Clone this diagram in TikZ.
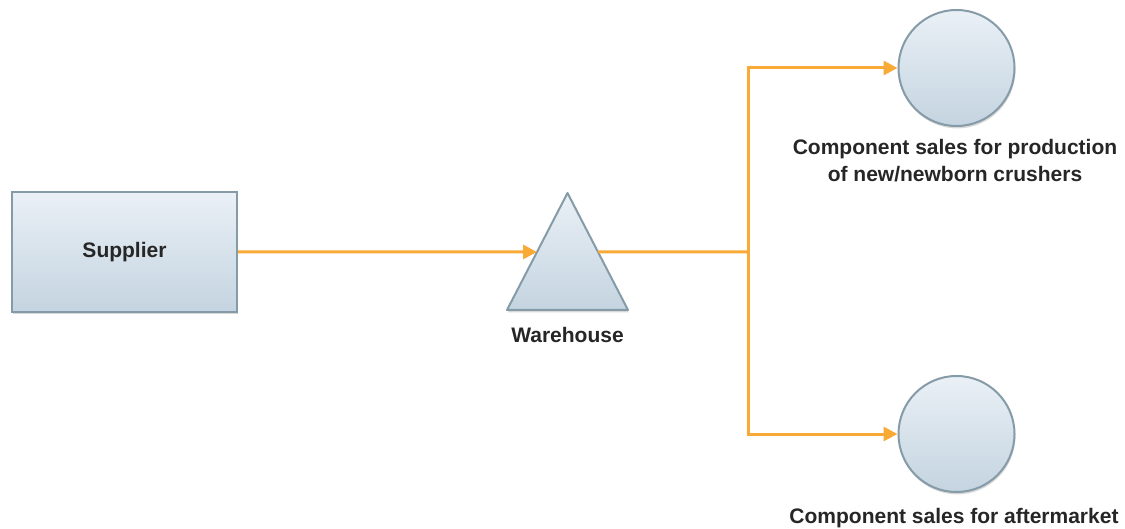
\documentclass[tikz,border=0pt]{standalone}
\usepackage{fontspec}
\setmainfont{Liberation Sans}
\usetikzlibrary{arrows.meta,shadows,calc}
\definecolor{edgeblue}{HTML}{859BA8}
\definecolor{filltop}{HTML}{EAF0F6}
\definecolor{fillbot}{HTML}{C4D4E0}
\definecolor{flow}{HTML}{F8A936}
\tikzset{
  shape style/.style={draw=edgeblue, line width=2pt, top color=filltop, bottom color=fillbot,
    drop shadow={shadow xshift=0.8pt, shadow yshift=-2.4pt, opacity=0.25, fill=black!60}},
  lbl/.style={font=\fontsize{21}{27}\selectfont\bfseries, text=black!85, align=center, inner sep=0pt},
  flowline/.style={draw=flow, line width=3pt},
  flowarrow/.style={flowline, -{Triangle[length=14pt,width=14pt]}},
}
\begin{document}
\begin{tikzpicture}[x=1pt,y=-1pt]
\useasboundingbox (0,0) rectangle (1125,529);
\fill[white] (0,0) rectangle (1125,529);

% supplier box
\node[shape style, rectangle, minimum width=225pt, minimum height=120pt, inner sep=0pt] (sup) at (124.5,252) {};
\node[lbl] (suplbl) at (sup.center) {Supplier};

% warehouse triangle
\coordinate (wtop) at (567.5,193);
\coordinate (wbl) at (507,310);
\coordinate (wbr) at (628,310);
\path[shape style, line join=round] (wtop) -- (wbl) -- (wbr) -- cycle;
\coordinate (win) at ($(wtop)!0.504!(wbl)$);
\coordinate (wout) at ($(wtop)!0.504!(wbr)$);
\node[lbl] (whlbl) at (567.5,335) {Warehouse};

% sales circles
\node[shape style, circle, minimum size=116pt, inner sep=0pt] (c1) at (956.5,68) {};
\node[shape style, circle, minimum size=116pt, inner sep=0pt] (c2) at (956.5,434) {};
\node[lbl] (c1lbl) at (955,161) {Component sales for production\\of new/newborn crushers};
\node[lbl] (c2lbl) at (954,518) {Component sales for aftermarket};

% flows
\coordinate (j) at (748,252);
\draw[flowarrow] (sup.east) -- (win);
\draw[flowline] (wout) -- (j);
\draw[flowarrow] (j) |- (c1.west);
\draw[flowarrow] (j) |- (c2.west);
\end{tikzpicture}
\end{document}
